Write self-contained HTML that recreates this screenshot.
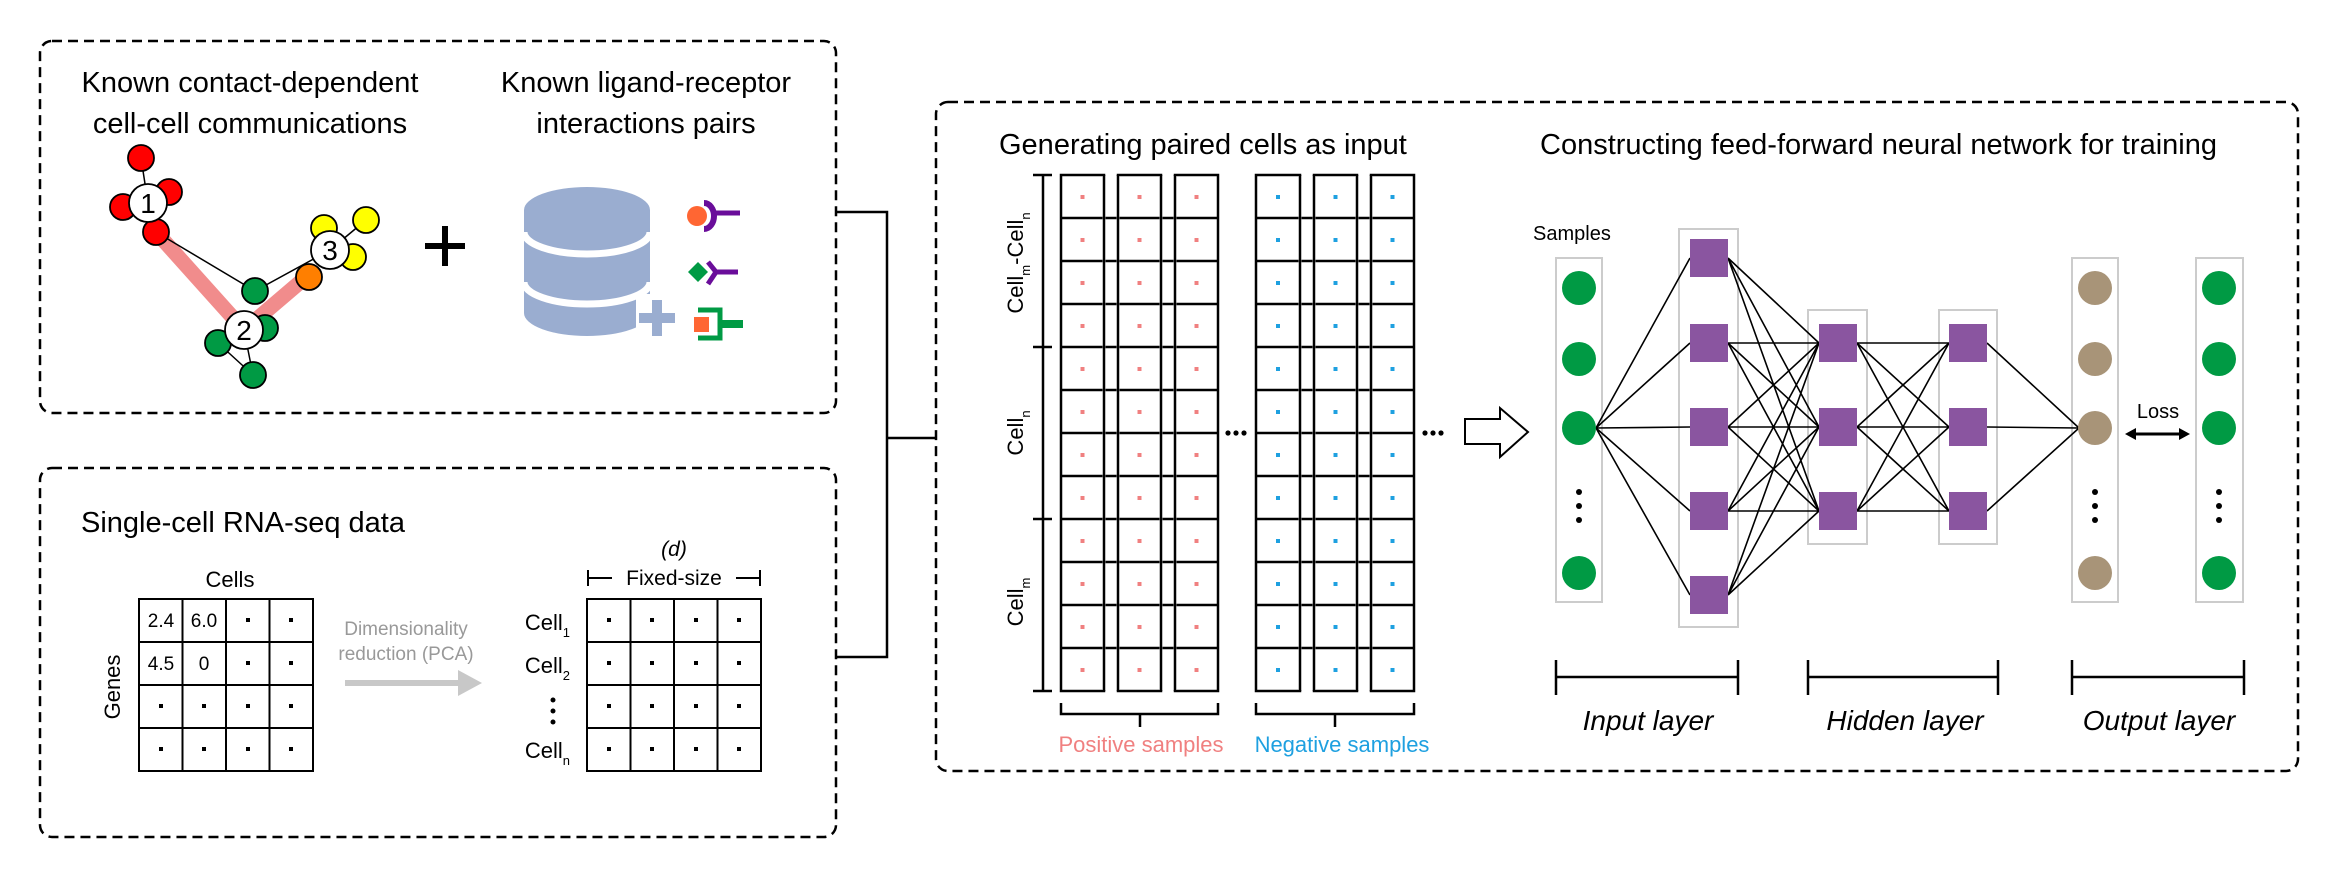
<!DOCTYPE html>
<html><head><meta charset="utf-8"><style>
html,body{margin:0;padding:0;background:#fff}
svg{display:block}
text{font-family:"Liberation Sans",Arial,sans-serif}
</style></head><body>
<svg width="2345" height="895" viewBox="0 0 2345 895" xmlns="http://www.w3.org/2000/svg">
<g fill="none" stroke="#000" stroke-width="2.5" stroke-dasharray="10,6">
<rect x="40" y="41" width="796" height="372" rx="12"/>
<rect x="40" y="468" width="796" height="369" rx="12"/>
<rect x="936" y="102" width="1362" height="669" rx="12"/>
</g>
<path d="M836 212 H887 V657 H836 M887 438 H936" fill="none" stroke="#000" stroke-width="2.5"/>

<!-- Box1 texts -->
<g font-size="29" fill="#000" text-anchor="middle">
<text x="250" y="92">Known contact-dependent</text>
<text x="250" y="133">cell-cell communications</text>
<text x="646" y="92">Known ligand-receptor</text>
<text x="646" y="133">interactions pairs</text>
</g>
<!-- graph -->
<g stroke="#f08080" stroke-width="15" stroke-linecap="round" opacity="0.9" fill="none">
<path d="M156 232 L244 330 L312 272"/>
</g>
<g stroke="#000" stroke-width="1.5" fill="none">
<path d="M141 158 L148 203 M156 232 L255 291 L330 250 M244 330 L253 375 M330 250 L366 220 M218 343 L253 375"/>
</g>
<g stroke="#000" stroke-width="1.8">
<circle cx="141" cy="158" r="13" fill="#f00"/>
<circle cx="169" cy="192" r="13" fill="#f00"/>
<circle cx="123" cy="207" r="13" fill="#f00"/>
<circle cx="156" cy="232" r="13" fill="#f00"/>
<circle cx="255" cy="291" r="13" fill="#009a44"/>
<circle cx="265" cy="328" r="13" fill="#009a44"/>
<circle cx="218" cy="343" r="13" fill="#009a44"/>
<circle cx="253" cy="375" r="13" fill="#009a44"/>
<circle cx="324" cy="228" r="13" fill="#ff0"/>
<circle cx="366" cy="220" r="13" fill="#ff0"/>
<circle cx="353" cy="257" r="13" fill="#ff0"/>
<circle cx="309" cy="277" r="13" fill="#ff7f00"/>
<circle cx="148" cy="203" r="19" fill="#fff"/>
<circle cx="244" cy="330" r="19" fill="#fff"/>
<circle cx="330" cy="250" r="19" fill="#fff"/>
</g>
<g font-size="28" text-anchor="middle" fill="#000">
<text x="148" y="213">1</text><text x="244" y="340">2</text><text x="330" y="260">3</text>
</g>
<!-- plus -->
<path d="M445 226 V266 M425 246 H465" stroke="#000" stroke-width="6"/>
<!-- database -->
<g fill="#9aadd0">
<path d="M524 210 A63 23 0 0 1 650 210 V313 A63 23 0 0 1 524 313 Z"/>
</g>
<path d="M524 232 A63 22 0 0 0 650 232 M524 282 A63 22 0 0 0 650 282" stroke="#fff" stroke-width="7" fill="none"/>
<rect x="636" y="294" width="34" height="46" fill="#fff"/>
<path d="M657 300 V336 M639 318 H675" stroke="#9aadd0" stroke-width="10"/>
<!-- ligand icons -->
<circle cx="697" cy="216" r="10" fill="#ff6633"/>
<path d="M704 203 A10 13 0 0 1 704 229" stroke="#6a0d9a" stroke-width="6" fill="none"/>
<path d="M712 213 H740" stroke="#6a0d9a" stroke-width="5"/>
<path d="M698 262 L708 272 L698 282 L688 272 Z" fill="#009a44"/>
<path d="M708 262 L716 272 L708 284 M716 272 H738" stroke="#6a0d9a" stroke-width="5" fill="none"/>
<path d="M698 310 H720 V338 H698" stroke="#009a44" stroke-width="5" fill="none"/>
<path d="M720 324 H743" stroke="#009a44" stroke-width="8"/>
<rect x="694" y="317" width="15" height="15" fill="#ff6633"/>

<!-- Box2 -->
<text x="81" y="532" font-size="29">Single-cell RNA-seq data</text>
<text x="230" y="587" font-size="22" text-anchor="middle">Cells</text>
<text transform="translate(120,687) rotate(-90)" font-size="22" text-anchor="middle">Genes</text>
<g stroke="#000" stroke-width="2" fill="none">
<rect x="139" y="599" width="174" height="172"/>
<path d="M182.5 599 V771 M226 599 V771 M269.5 599 V771 M139 642 H313 M139 685 H313 M139 728 H313"/>
<rect x="587" y="599" width="174" height="172"/>
<path d="M630.5 599 V771 M674 599 V771 M717.5 599 V771 M587 642 H761 M587 685 H761 M587 728 H761"/>
<path d="M588 570 V586 M760 570 V586 M588 578 H612 M736 578 H760"/>
</g>
<g font-size="19" text-anchor="middle">
<text x="161" y="627">2.4</text><text x="204" y="627">6.0</text>
<text x="161" y="670">4.5</text><text x="204" y="670">0</text>
</g>
<g fill="#000">
<rect x="246" y="618" width="4" height="4"/><rect x="289" y="618" width="4" height="4"/>
<rect x="246" y="661" width="4" height="4"/><rect x="289" y="661" width="4" height="4"/>
<rect x="159" y="704" width="4" height="4"/><rect x="202" y="704" width="4" height="4"/><rect x="246" y="704" width="4" height="4"/><rect x="289" y="704" width="4" height="4"/>
<rect x="159" y="747" width="4" height="4"/><rect x="202" y="747" width="4" height="4"/><rect x="246" y="747" width="4" height="4"/><rect x="289" y="747" width="4" height="4"/>
</g>
<g fill="#000">
<rect x="607" y="618" width="4" height="4"/><rect x="650" y="618" width="4" height="4"/><rect x="694" y="618" width="4" height="4"/><rect x="737" y="618" width="4" height="4"/>
<rect x="607" y="661" width="4" height="4"/><rect x="650" y="661" width="4" height="4"/><rect x="694" y="661" width="4" height="4"/><rect x="737" y="661" width="4" height="4"/>
<rect x="607" y="704" width="4" height="4"/><rect x="650" y="704" width="4" height="4"/><rect x="694" y="704" width="4" height="4"/><rect x="737" y="704" width="4" height="4"/>
<rect x="607" y="747" width="4" height="4"/><rect x="650" y="747" width="4" height="4"/><rect x="694" y="747" width="4" height="4"/><rect x="737" y="747" width="4" height="4"/>
</g>
<text x="674" y="556" font-size="21" font-style="italic" text-anchor="middle">(d)</text>
<text x="674" y="585" font-size="21" text-anchor="middle">Fixed-size</text>
<g font-size="22" text-anchor="end">
<text x="570" y="630">Cell<tspan font-size="13" dy="7">1</tspan></text>
<text x="570" y="673">Cell<tspan font-size="13" dy="7">2</tspan></text>
<text x="570" y="758">Cell<tspan font-size="13" dy="7">n</tspan></text>
</g>
<g fill="#000"><circle cx="553" cy="700" r="2.5"/><circle cx="553" cy="711" r="2.5"/><circle cx="553" cy="722" r="2.5"/></g>
<g font-size="19" fill="#999" text-anchor="middle">
<text x="406" y="635">Dimensionality</text>
<text x="406" y="660">reduction (PCA)</text>
</g>
<path d="M345 683 H468" stroke="#c8c8c8" stroke-width="6"/>
<path d="M458 670 L482 683 L458 696 Z" fill="#c8c8c8"/>

<!-- Box3 left -->
<text x="999" y="154" font-size="29">Generating paired cells as input</text>
<g stroke="#000" stroke-width="2.5" fill="none" id="cols">
<rect x="1061" y="175" width="43" height="516"/>
<rect x="1118" y="175" width="43" height="516"/>
<rect x="1175" y="175" width="43" height="516"/>
<rect x="1256" y="175" width="44" height="516"/>
<rect x="1314" y="175" width="43" height="516"/>
<rect x="1371" y="175" width="43" height="516"/>
<path d="M1061 218 H1218 M1061 261 H1218 M1061 304 H1218 M1061 347 H1218 M1061 390 H1218 M1061 433 H1218 M1061 476 H1218 M1061 519 H1218 M1061 562 H1218 M1061 605 H1218 M1061 648 H1218"/>
<path d="M1256 218 H1414 M1256 261 H1414 M1256 304 H1414 M1256 347 H1414 M1256 390 H1414 M1256 433 H1414 M1256 476 H1414 M1256 519 H1414 M1256 562 H1414 M1256 605 H1414 M1256 648 H1414"/>
</g>
<g stroke="#fff" stroke-width="3" fill="none">
<path d="M1104 176 V690 M1118 176 V690 M1161 176 V690 M1175 176 V690 M1300 176 V690 M1314 176 V690 M1357 176 V690 M1371 176 V690"/>
</g>
<g stroke="#000" stroke-width="2.5" fill="none">
<path d="M1104 175 V691 M1118 175 V691 M1161 175 V691 M1175 175 V691 M1300 175 V691 M1314 175 V691 M1357 175 V691 M1371 175 V691"/>
</g>
<g stroke="#f08080" stroke-width="4" stroke-dasharray="4,39">
<path d="M1082.5 195 V691 M1139.5 195 V691 M1196.5 195 V691"/>
</g>
<g stroke="#1ea0e0" stroke-width="4" stroke-dasharray="4,39">
<path d="M1278 195 V691 M1335.5 195 V691 M1392.5 195 V691"/>
</g>
<g stroke="#000" stroke-width="2.5" fill="none">
<path d="M1043 175 V691 M1033 175 H1052 M1033 347 H1052 M1033 519 H1052 M1033 691 H1052"/>
<path d="M1061 703 V714 H1218 V703 M1140 714 V727 M1256 703 V714 H1414 V703 M1335 714 V727"/>
</g>
<g font-size="22">
<text transform="translate(1023,263) rotate(-90)" text-anchor="middle">Cell<tspan font-size="13" dy="7">m</tspan><tspan dy="-7">-Cell</tspan><tspan font-size="13" dy="7">n</tspan></text>
<text transform="translate(1023,433) rotate(-90)" text-anchor="middle">Cell<tspan font-size="13" dy="7">n</tspan></text>
<text transform="translate(1023,602) rotate(-90)" text-anchor="middle">Cell<tspan font-size="13" dy="7">m</tspan></text>
</g>
<g fill="#000">
<circle cx="1228" cy="433" r="2.6"/><circle cx="1236" cy="433" r="2.6"/><circle cx="1244" cy="433" r="2.6"/>
<circle cx="1425" cy="433" r="2.6"/><circle cx="1433" cy="433" r="2.6"/><circle cx="1441" cy="433" r="2.6"/>
</g>
<path d="M1465 419 H1500 V408 L1528 432 L1500 457 V444 H1465 Z" fill="#fff" stroke="#000" stroke-width="2"/>
<text x="1141" y="752" font-size="22" fill="#f08080" text-anchor="middle">Positive samples</text>
<text x="1342" y="752" font-size="22" fill="#1ea0e0" text-anchor="middle">Negative samples</text>

<!-- NN -->
<text x="1540" y="154" font-size="29">Constructing feed-forward neural network for training</text>
<text x="1533" y="240" font-size="20">Samples</text>
<g fill="none" stroke="#ccc" stroke-width="2">
<rect x="1556" y="258" width="46" height="344"/>
<rect x="1679" y="229" width="59" height="398"/>
<rect x="1808" y="310" width="59" height="234"/>
<rect x="1939" y="310" width="58" height="234"/>
<rect x="2072" y="258" width="46" height="344"/>
<rect x="2196" y="258" width="47" height="344"/>
</g>
<g stroke="#000" stroke-width="1.6" fill="none">
<path d="M1596 428 L1690 258 M1596 428 L1690 343 M1596 428 L1690 427 M1596 428 L1690 511 M1596 428 L1690 595"/>
<path d="M1728 258 L1819 343 M1728 258 L1819 427 M1728 258 L1819 511
M1728 343 L1819 343 M1728 343 L1819 427 M1728 343 L1819 511
M1728 427 L1819 343 M1728 427 L1819 427 M1728 427 L1819 511
M1728 511 L1819 343 M1728 511 L1819 427 M1728 511 L1819 511
M1728 595 L1819 343 M1728 595 L1819 427 M1728 595 L1819 511"/>
<path d="M1857 343 L1949 343 M1857 343 L1949 427 M1857 343 L1949 511
M1857 427 L1949 343 M1857 427 L1949 427 M1857 427 L1949 511
M1857 511 L1949 343 M1857 511 L1949 427 M1857 511 L1949 511"/>
<path d="M1987 343 L2079 428 M1987 427 L2079 428 M1987 511 L2079 428"/>
</g>
<g fill="#8a55a0">
<rect x="1690" y="239" width="38" height="38"/><rect x="1690" y="324" width="38" height="38"/><rect x="1690" y="408" width="38" height="38"/><rect x="1690" y="492" width="38" height="38"/><rect x="1690" y="576" width="38" height="38"/>
<rect x="1819" y="324" width="38" height="38"/><rect x="1819" y="408" width="38" height="38"/><rect x="1819" y="492" width="38" height="38"/>
<rect x="1949" y="324" width="38" height="38"/><rect x="1949" y="408" width="38" height="38"/><rect x="1949" y="492" width="38" height="38"/>
</g>
<g fill="#009a44">
<circle cx="1579" cy="288" r="17"/><circle cx="1579" cy="359" r="17"/><circle cx="1579" cy="428" r="17"/><circle cx="1579" cy="573" r="17"/>
<circle cx="2219" cy="288" r="17"/><circle cx="2219" cy="359" r="17"/><circle cx="2219" cy="428" r="17"/><circle cx="2219" cy="573" r="17"/>
</g>
<g fill="#a89478">
<circle cx="2095" cy="288" r="17"/><circle cx="2095" cy="359" r="17"/><circle cx="2095" cy="428" r="17"/><circle cx="2095" cy="573" r="17"/>
</g>
<g fill="#000">
<circle cx="1579" cy="492" r="3"/><circle cx="1579" cy="506" r="3"/><circle cx="1579" cy="520" r="3"/>
<circle cx="2095" cy="492" r="3"/><circle cx="2095" cy="506" r="3"/><circle cx="2095" cy="520" r="3"/>
<circle cx="2219" cy="492" r="3"/><circle cx="2219" cy="506" r="3"/><circle cx="2219" cy="520" r="3"/>
</g>
<text x="2158" y="418" font-size="20" text-anchor="middle">Loss</text>
<path d="M2133 434 H2182" stroke="#000" stroke-width="3"/>
<path d="M2125 434 L2136 428 L2136 440 Z M2190 434 L2179 428 L2179 440 Z" fill="#000"/>
<g stroke="#000" stroke-width="2.5" fill="none">
<path d="M1556 660 V695 M1738 660 V695 M1556 677 H1738"/>
<path d="M1808 660 V695 M1998 660 V695 M1808 677 H1998"/>
<path d="M2072 660 V695 M2244 660 V695 M2072 677 H2244"/>
</g>
<g font-size="28" font-style="italic" text-anchor="middle">
<text x="1648" y="730">Input layer</text>
<text x="1905" y="730">Hidden layer</text>
<text x="2159" y="730">Output layer</text>
</g>
</svg>
</body></html>
